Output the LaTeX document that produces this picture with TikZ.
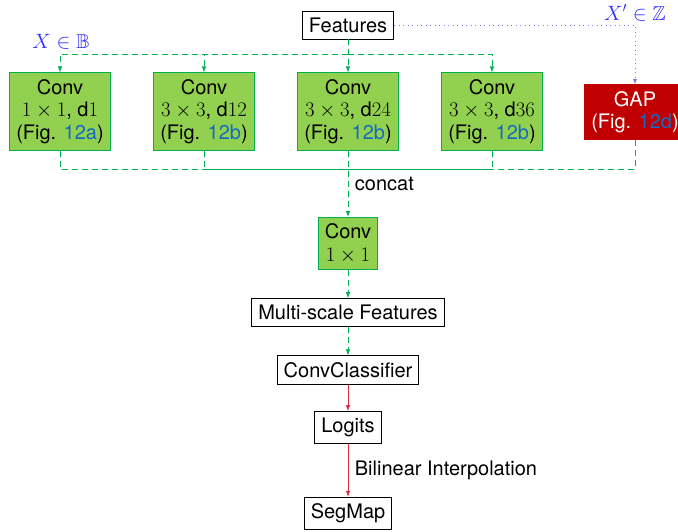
\documentclass[tikz,border=0pt]{standalone}
\usepackage[no-math]{fontspec}
\setmainfont{TeX Gyre Heros}
\usepackage{amssymb}
\usetikzlibrary{arrows.meta, positioning}

\definecolor{convfill}{RGB}{146, 208, 80}
\definecolor{convline}{RGB}{0, 176, 80}
\definecolor{gapfill}{RGB}{192, 0, 0}
\definecolor{flowred}{RGB}{220, 45, 60}
\definecolor{figlink}{RGB}{20, 105, 195}
\definecolor{mathblue}{RGB}{45, 45, 255}
\definecolor{dotblue}{RGB}{110, 130, 235}
\newcommand{\figlabel}[1]{\textcolor{figlink}{#1}}

\tikzset{
  box/.style={draw=black, line width=0.8pt, inner sep=6.5pt,
              font=\fontsize{20}{22.5}\selectfont},
  convbox/.style={box, draw=convline, fill=convfill, align=center, minimum width=101pt},
  gapbox/.style={box, draw=gapfill, fill=gapfill, text=white, align=center, minimum width=101pt},
  plainlabel/.style={inner sep=6.5pt, font=\fontsize{20}{22.5}\selectfont},
  greenflow/.style={draw=convline, line width=0.8pt, dash pattern=on 6pt off 4pt,
                    -{Latex[length=6pt, width=4.5pt]}},
  greenline/.style={greenflow, -},
  blueflow/.style={draw=dotblue, line width=0.7pt, dash pattern=on 1pt off 3.5pt,
                   -{Latex[length=5pt, width=4pt]}},
  redflow/.style={draw=flowred, line width=0.8pt, -{Latex[length=6pt, width=4.5pt]}},
}

\begin{document}
\begin{tikzpicture}[x=1pt, y=-1pt]
  \useasboundingbox (0,0) rectangle (678,531);

  % input features and the parallel branches
  \node[box] (feat) at (348,25) {Features};
  \node[convbox] (conv1) at (60,111.5) {Conv\\$1\times1$, d$1$\\(Fig. \figlabel{12a})};
  \node[convbox] (conv2) at (204,111.5) {Conv\\$3\times3$, d$12$\\(Fig. \figlabel{12b})};
  \node[convbox] (conv3) at (348,111.5) {Conv\\$3\times3$, d$24$\\(Fig. \figlabel{12b})};
  \node[convbox] (conv4) at (492,111.5) {Conv\\$3\times3$, d$36$\\(Fig. \figlabel{12b})};
  \node[gapbox] (gap) at (635,112) {GAP\\(Fig. \figlabel{12d})};

  \node[plainlabel, text=mathblue] (xin) at (61,42) {$X\in\mathbb{B}$};
  \node[plainlabel, text=mathblue] (xgap) at (635,13) {$X'\in\mathbb{Z}$};

  % fusion and head
  \node[convbox, minimum width=0pt] (fuse) at (348,243.5) {Conv\\$1\times1$};
  \node[box] (msf) at (348,312.5) {Multi-scale Features};
  \node[box] (cls) at (348,370) {ConvClassifier};
  \node[box] (logits) at (348,427.5) {Logits};
  \node[box] (segmap) at (348,513.5) {SegMap};

  \coordinate (topbus) at (348,54);
  \coordinate (botbus) at (348,169);

  % split
  \draw[greenflow] (feat) -- (conv3);
  \draw[greenflow] (topbus) -| (conv1);
  \draw[greenflow] (topbus) -| (conv2);
  \draw[greenflow] (topbus) -| (conv4);
  \draw[blueflow] (feat) -| (gap);

  % merge
  \draw[greenline] (conv1) |- (botbus);
  \draw[greenline] (conv2) |- (botbus);
  \draw[greenline] (conv4) |- (botbus);
  \draw[greenline] (gap) |- (botbus);
  \draw[greenflow] (conv3) -- (fuse) node[plainlabel, midway, right, text=black] {concat};

  \draw[greenflow] (fuse) -- (msf);
  \draw[greenflow] (msf) -- (cls);
  \draw[redflow] (cls) -- (logits);
  \draw[redflow] (logits) -- (segmap) node[plainlabel, midway, right, text=black] {Bilinear Interpolation};
\end{tikzpicture}
\end{document}
